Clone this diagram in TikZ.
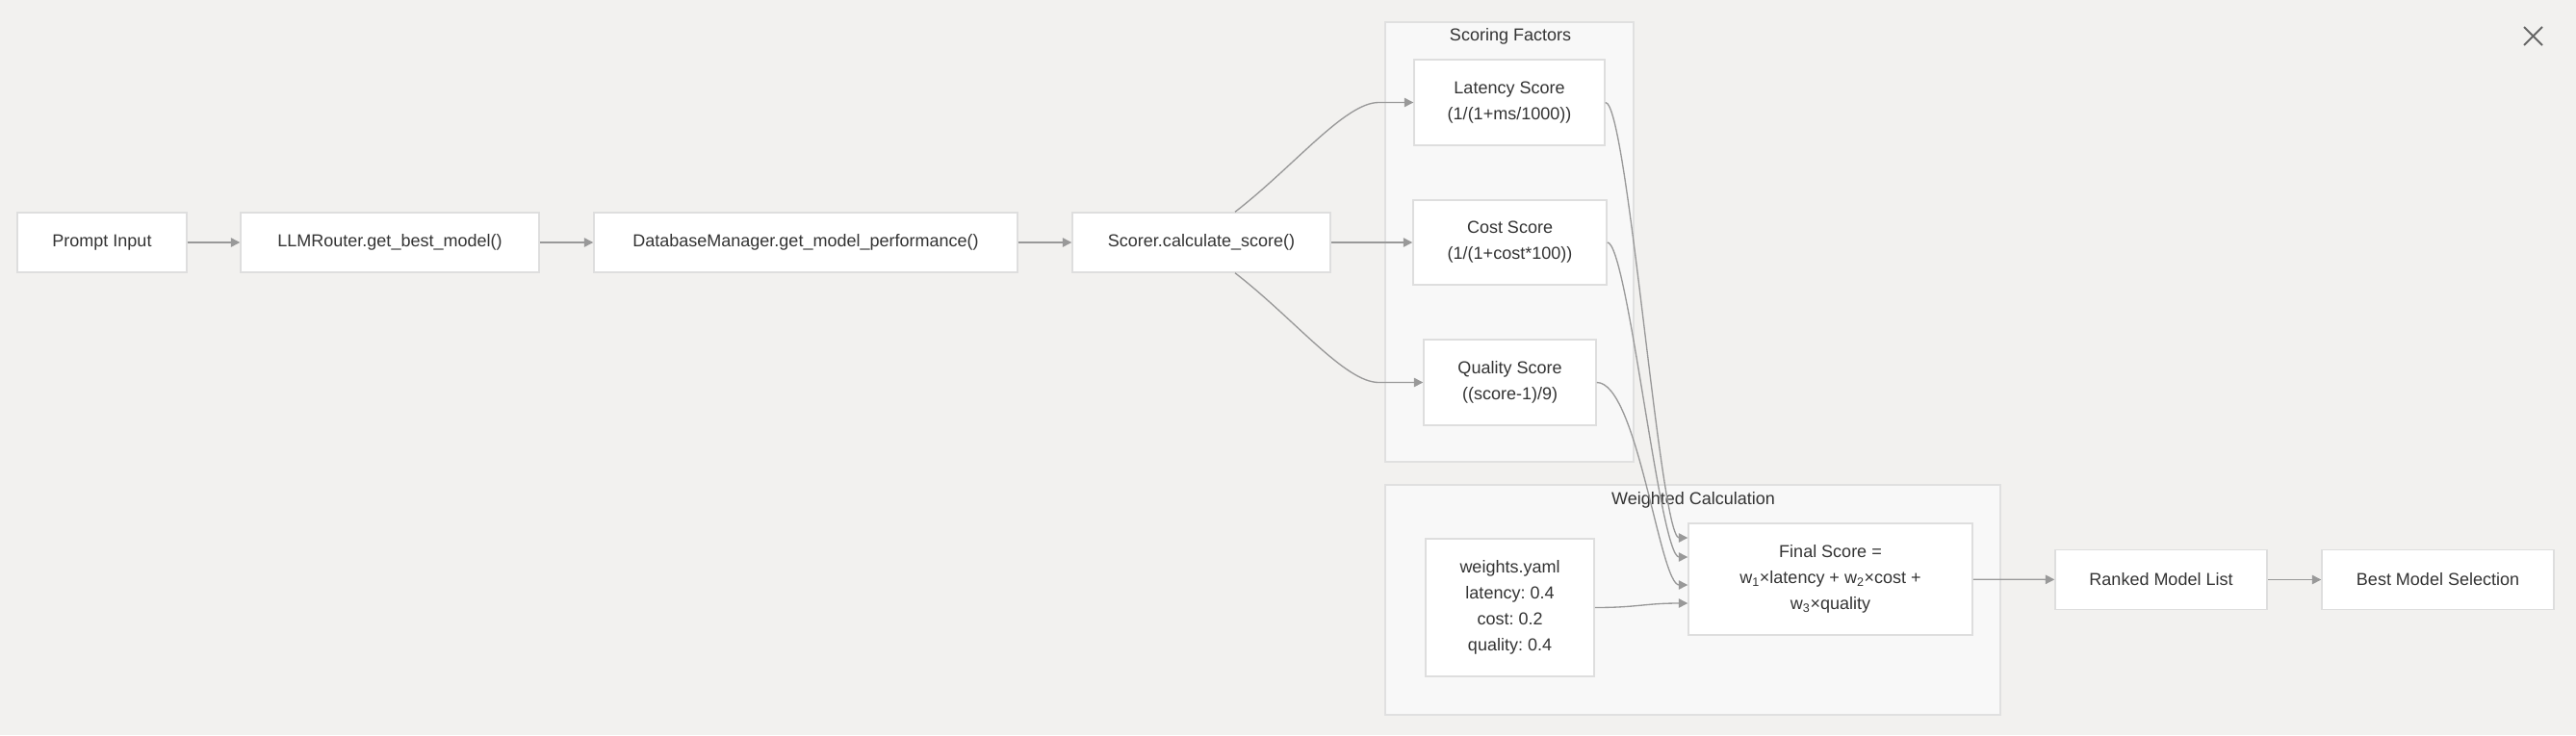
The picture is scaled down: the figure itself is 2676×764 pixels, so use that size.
\documentclass[tikz,border=0pt]{standalone}
\usepackage{fontspec}
\setmainfont{Liberation Sans}
\frenchspacing
\usetikzlibrary{arrows.meta,calc}
\definecolor{bgcol}{RGB}{242,241,239}
\definecolor{clfill}{RGB}{248,248,248}
\definecolor{cledge}{RGB}{224,224,224}
\definecolor{boxedge}{RGB}{222,222,222}
\definecolor{linecol}{RGB}{153,153,153}
\definecolor{txtcol}{RGB}{51,51,51}
\tikzset{
  box/.style={draw=boxedge, line width=1.1pt, fill=white, inner sep=0pt,
    align=center, text=txtcol, font=\fontsize{13.5}{20.25}\selectfont,
    minimum height=46.5pt},
  cluster/.style={draw=cledge, line width=1.1pt, fill=clfill},
  cltitle/.style={text=txtcol, font=\fontsize{13.5}{16}\selectfont, inner sep=0pt},
  flow/.style={draw=linecol, line width=1pt, -{Triangle[length=7pt,width=7pt]}},
  xicon/.style={draw=black!60, line width=1.5pt}
}
\begin{document}
\begin{tikzpicture}[x=0.75pt,y=-0.75pt]
        % background and frame
        \fill [bgcol] (0,0) rectangle (2676,764);
        \draw [xicon] (2622,28) -- (2641,47) (2641,28) -- (2622,47);

        % clusters
        \draw [cluster] (1439,23) rectangle (1697,480);
        \node [cltitle] (factorstitle) at (1569,38) {Scoring Factors};
        \draw [cluster] (1439,504) rectangle (2078,743);
        \node [cltitle] (calctitle) at (1759,520) {Weighted Calculation};

        % main chain
        \node [box, minimum width=132pt] (prompt) at (106,252) {Prompt Input};
        \node [box, minimum width=232.5pt] (router) at (405,252) {LLMRouter.get\_best\_model()};
        \node [box, minimum width=330pt] (dbm) at (837,252) {DatabaseManager.get\_model\_performance()};
        \node [box, minimum width=201pt] (scorer) at (1248,252) {Scorer.calculate\_score()};

        % scoring factors
        \node [box, minimum width=148.5pt, minimum height=66.75pt] (latency) at (1568,106.5) {Latency Score\\(1/(1+ms/1000))};
        \node [box, minimum width=150.75pt, minimum height=66pt] (cost) at (1568.5,252) {Cost Score\\(1/(1+cost*100))};
        \node [box, minimum width=134.25pt, minimum height=66.75pt] (quality) at (1568.5,397.5) {Quality Score\\((score-1)/9)};

        % weighted calculation
        \node [box, minimum width=131.25pt, minimum height=107.25pt] (weights) at (1568.5,631.5) {weights.yaml\\latency: 0.4\\cost: 0.2\\quality: 0.4};
        \node [box, minimum width=221.25pt, minimum height=87pt] (final) at (1901.5,602) {Final Score =\\w\textsubscript{1}×latency + w\textsubscript{2}×cost +\\w\textsubscript{3}×quality};

        % result
        \node [box, minimum width=165pt] (ranked) at (2245,602.5) {Ranked Model List};
        \node [box, minimum width=180.75pt] (best) at (2532.5,602.5) {Best Model Selection};

        % connectors
        \draw [flow] (prompt) -- (router);
        \draw [flow] (router) -- (dbm);
        \draw [flow] (dbm) -- (scorer);
        \draw [flow] ($(scorer.north)+(35,0)$) .. controls +(62,-48) and +(-35,0) .. ($(latency.west)+(-36,0)$) -- (latency.west);
        \draw [flow] (scorer) -- (cost);
        \draw [flow] ($(scorer.south)+(35,0)$) .. controls +(62,48) and +(-35,0) .. ($(quality.west)+(-46,0)$) -- (quality.west);
        \draw [flow] (latency.east) .. controls +(23,0) and +(-29,0) .. ($(final.west)+(0,-43)$);
        \draw [flow] (cost.east) .. controls +(21,0) and +(-29,0) .. ($(final.west)+(0,-23)$);
        \draw [flow] (quality.east) .. controls +(42,0) and +(-29,0) .. ($(final.west)+(0,6)$);
        \draw [flow] (weights.east) .. controls +(45,0) and +(-45,0) .. ($(final.west)+(0,25)$);
        \draw [flow] (final) -- (ranked);
        \draw [flow] (ranked) -- (best);
    \end{tikzpicture}
\end{document}
